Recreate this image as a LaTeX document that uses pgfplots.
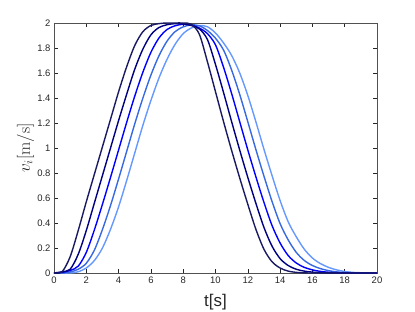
\documentclass[border=0pt]{standalone}
\usepackage[no-math]{fontspec}
\setmainfont{Liberation Sans}
\usepackage{pgfplots}
\pgfplotsset{compat=1.18}
\usepackage{pgfplotstable}
\definecolor{c1}{RGB}{26,26,100}
\definecolor{c2}{RGB}{0,0,128}
\definecolor{c3}{RGB}{0,0,255}
\definecolor{c4}{RGB}{55,105,225}
\definecolor{c5}{RGB}{102,153,255}
\definecolor{axgray}{RGB}{38,38,38}
\pgfplotstableread{
t c1 c2 c3 c4 c5
0 0 0 0 0 0
0.5 0.01 0.01 0.005 0 0
1.0 0.13 0.03 0.02 0.008 0
1.5 0.34 0.15 0.055 0.03 0.01
2.0 0.57 0.34 0.165 0.078 0.04
2.5 0.79 0.56 0.345 0.183 0.1
3.0 1.01 0.78 0.55 0.348 0.2
3.5 1.23 1.0 0.765 0.54 0.35
4.0 1.45 1.22 0.985 0.753 0.53
4.5 1.65 1.43 1.205 0.973 0.74
5.0 1.82 1.63 1.415 1.193 0.96
5.5 1.93 1.79 1.605 1.398 1.18
6.0 1.98 1.905 1.765 1.583 1.38
6.5 1.995 1.964 1.88 1.738 1.56
7.0 2.0 1.986 1.948 1.855 1.71
7.5 2.0 1.995 1.978 1.931 1.83
8.0 2.0 1.993 1.99 1.969 1.915
8.5 1.99 1.98 1.985 1.985 1.96
9.0 1.91 1.953 1.96 1.978 1.98
9.5 1.69 1.868 1.915 1.94 1.97
10.0 1.45 1.668 1.825 1.878 1.92
10.5 1.21 1.443 1.645 1.783 1.84
11.0 0.98 1.21 1.435 1.623 1.74
11.5 0.76 0.983 1.21 1.428 1.6
12.0 0.55 0.765 0.985 1.21 1.42
12.5 0.35 0.558 0.77 0.988 1.21
13.0 0.19 0.365 0.565 0.775 0.99
13.5 0.09 0.215 0.38 0.573 0.78
14.0 0.04 0.115 0.24 0.395 0.58
14.5 0.015 0.06 0.14 0.265 0.41
15.0 0.005 0.03 0.08 0.165 0.29
15.5 0.001 0.015 0.045 0.1 0.19
16.0 0 0.007 0.025 0.06 0.12
16.5 0 0.003 0.013 0.035 0.075
17.0 0 0.001 0.006 0.019 0.045
17.5 0 0 0.003 0.009 0.025
18.0 0 0 0.001 0.004 0.012
18.5 0 0 0 0.002 0.005
19.0 0 0 0 0 0.002
19.5 0 0 0 0 0
20 0 0 0 0 0
}\data
\begin{document}
\begin{tikzpicture}
\begin{axis}[
  scale only axis,
  width=323bp, height=250bp,
  xmin=0, xmax=20, ymin=0, ymax=2,
  xtick={0,2,4,6,8,10,12,14,16,18,20},
  ytick={0,0.2,0.4,0.6,0.8,1,1.2,1.4,1.6,1.8,2},
  yticklabels={0,0.2,0.4,0.6,0.8,1,1.2,1.4,1.6,1.8,2},
  /pgf/number format/assume math mode=true,
  tick align=inside,
  major tick length=4bp,
  tick style={axgray, line width=0.5bp},
  axis line style={axgray!80, line width=0.6bp},
  ticklabel style={font=\fontsize{9.5}{10}\selectfont, text=axgray},
  xlabel={t[s]},
  ylabel={$v_i[\mathrm{m/s}]$},
  xlabel style={font=\fontsize{17}{18}\selectfont, text=axgray, at={(axis description cs:0.5,-0.116)}, anchor=center},
  ylabel style={font=\fontsize{17}{18}\selectfont, text=axgray, at={(axis description cs:-0.088,0.5)}, anchor=center, rotate=0},
  every axis plot/.append style={line width=1.4bp, smooth, tension=0.5},
  clip=true,
]
\addplot[c5] table[x=t, y=c5] {\data};
\addplot[c4] table[x=t, y=c4] {\data};
\addplot[c3] table[x=t, y=c3] {\data};
\addplot[c2] table[x=t, y=c2] {\data};
\addplot[c1] table[x=t, y=c1] {\data};
\coordinate (bl) at (rel axis cs:0,0);
\coordinate (tr) at (rel axis cs:1,1);
\end{axis}
\pgfresetboundingbox
\path[use as bounding box] ([shift={(-54bp,-39bp)}]bl) rectangle ([shift={(38bp,23bp)}]tr);
\end{tikzpicture}
\end{document}
